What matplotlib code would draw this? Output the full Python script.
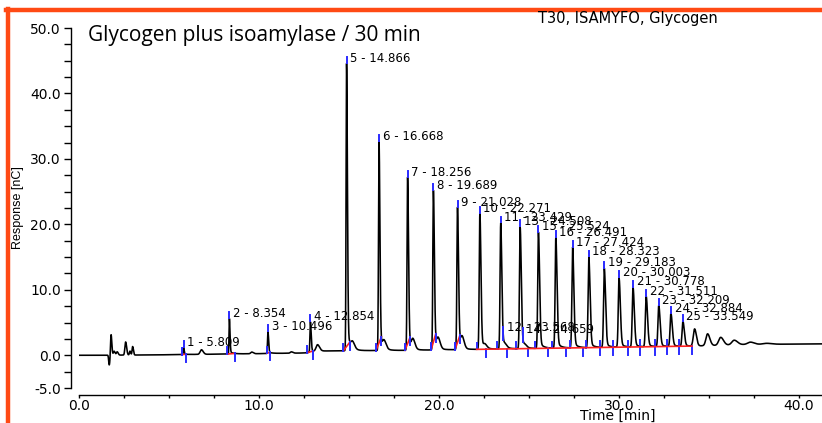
import numpy as np
import matplotlib
matplotlib.use("Agg")
import matplotlib.pyplot as plt
from matplotlib.ticker import MultipleLocator, FixedLocator, FormatStrFormatter
from matplotlib.lines import Line2D

# ---------------- data ----------------
peak_nums = [1, 2, 3, 4, 5, 6, 7, 8, 9, 10, 11, 13, 15, 16, 17, 18, 19, 20, 21, 22, 23, 24, 25]
peak_rt = [5.809, 8.354, 10.496, 12.854, 14.866, 16.668, 18.256, 19.689, 21.028,
           22.271, 23.429, 24.508, 25.524, 26.491, 27.424, 28.323, 29.183, 30.003,
           30.778, 31.511, 32.209, 32.884, 33.549]
peak_top = [1.2, 5.6, 3.6, 5.1, 44.6, 32.6, 27.2, 25.2, 22.6,
            21.7, 20.2, 19.6, 18.8, 18.0, 16.5, 15.0, 13.3, 11.8,
            10.4, 9.0, 7.6, 6.4, 5.2]
int_start = [5.70, 8.24, 10.43, 12.69, 14.69, 16.50, 18.11, 19.56, 20.89,
             22.09, 23.24, 24.30, 25.33, 26.30, 27.28, 28.15, 28.94, 29.69,
             30.50, 31.17, 32.00, 32.68, 33.36]
int_end = [5.93, 8.67, 10.61, 13.02, 15.06, 16.80, 18.39, 19.82, 21.17,
           22.61, 23.80, 24.96, 26.07, 27.06, 28.00, 28.94, 29.69, 30.50,
           31.17, 32.00, 32.68, 33.36, 34.06]

# small peaks labelled inside tails of 11 and 13
minor_nums = [12, 14]
minor_rt = [23.568, 24.659]
minor_top = [3.3, 3.1]

# unlabelled features: (time, height above baseline, width)
misc_rt = [1.68, 1.78, 1.95, 2.12, 2.59, 2.83, 2.98, 6.80, 9.60, 11.8,
           13.25, 15.20, 16.95, 18.55, 19.95, 21.28, 22.55, 23.65, 24.75,
           34.20, 34.92, 35.65, 36.40, 37.30, 38.2]
misc_h = [-1.5, 3.2, 0.6, 0.5, 2.0, 0.6, 1.3, 0.7, 0.25, 0.2,
          1.0, 0.9, 1.1, 1.4, 1.5, 1.7, 0.5, 0.5, 0.4,
          2.6, 1.8, 1.2, 0.7, 0.35, 0.15]
misc_w = [0.03, 0.03, 0.04, 0.04, 0.04, 0.03, 0.03, 0.07, 0.06, 0.06,
          0.08, 0.08, 0.08, 0.08, 0.08, 0.08, 0.08, 0.08, 0.08,
          0.07, 0.09, 0.11, 0.13, 0.15, 0.2]

# baseline level anchors
base_t = [0.0, 4.0, 10.0, 12.5, 13.5, 15.0, 18.0, 22.0, 28.0, 34.0, 37.0, 41.6]
base_y = [0.0, 0.05, 0.25, 0.35, 0.65, 0.7, 0.75, 0.9, 1.15, 1.4, 1.65, 1.75]

x_ticks = [0, 10, 20, 30, 40]
y_ticks = [-5, 0, 10, 20, 30, 40, 50]

# ---------------- build trace ----------------
t = np.linspace(0, 41.6, 16000)
def base(x):
    return np.interp(x, base_t, base_y)

def tail_peak(x, rt, h, sl, sr, frac=0.0, tau=0.2):
    d = x - rt
    left = np.exp(-0.5 * (d / sl) ** 2)
    right = (1 - frac) * np.exp(-0.5 * (d / sr) ** 2) + frac * np.exp(-np.clip(d, 0, None) / tau)
    return h * np.where(d < 0, left, right)

y = base(t).copy()
for rt, top in zip(peak_rt, peak_top):
    sl = 0.012 + 0.001 * rt
    sr = 1.7 * sl
    y += tail_peak(t, rt, top - base(rt), sl, sr, frac=0.07, tau=0.2)
for rt, h, w in zip(misc_rt, misc_h, misc_w):
    y += tail_peak(t, rt, h, w, w * 1.4)

# ---------------- figure ----------------
W, H = 822, 423
fig = plt.figure(figsize=(W / 100, H / 100), dpi=100)
fig.patch.set_facecolor("white")

x0, x1 = 79, 822
ytop, ybot = 28, 388
ax = fig.add_axes([x0 / W, 1 - ybot / H, (x1 - x0) / W, (ybot - ytop) / H])
ax.set_xlim(0, (x1 - x0) / 18.0)
ax.set_ylim(-5, 50)
ax.patch.set_alpha(0)

ax.plot(t, y, color="black", lw=1.15, zorder=3)

blue = "#2a2aff"
red = "#ff2020"
lab_font = ["DejaVu Sans"]
tk = 1.0
for i, (n, rt, top) in enumerate(zip(peak_nums, peak_rt, peak_top)):
    ax.plot([rt, rt], [top + 0.1, top + 1.0], color=blue, lw=1.4, zorder=4)
    ax.text(rt + 0.2, top + 0.8, f"{n} - {rt:.3f}", fontsize=8.5,
            family=lab_font, va="center", ha="left", zorder=5)
    s, e = int_start[i], int_end[i]
    ys = np.interp(s, t, y)
    ye = np.interp(e, t, y)
    if n <= 9:
        ax.plot([s, e], [ys, ye], color=red, lw=1.2, zorder=4)
        ax.plot([s, s], [ys, ys + tk], color=blue, lw=1.4, zorder=4)
        ax.plot([e, e], [ye, ye - tk * 1.2], color=blue, lw=1.4, zorder=4)
    else:
        bs, be = base(s), base(e)
        ax.plot([s, s], [bs, bs + tk], color=blue, lw=1.4, zorder=4)
        ax.plot([e, e], [be, be - tk * 1.2], color=blue, lw=1.4, zorder=4)

# continuous red baseline under peaks 10-25
gs, ge = int_start[9], int_end[-1]
ax.plot([gs, ge], [base(gs), base(ge)], color=red, lw=1.2, zorder=4)

for n, rt, top in zip(minor_nums, minor_rt, minor_top):
    ax.plot([rt, rt], [top - 1.0, top + 1.0], color=blue, lw=1.4, zorder=4)
    ax.text(rt + 0.2, top + 0.9, f"{n} - {rt:.3f}", fontsize=8.5,
            family=lab_font, va="center", ha="left", zorder=5)

# axes styling
for sp in ["top", "right"]:
    ax.spines[sp].set_visible(False)
ax.spines["left"].set_position(("outward", 6))
ax.spines["bottom"].set_position(("outward", 5))
ax.spines["left"].set_bounds(-5, 50)
ax.spines["bottom"].set_bounds(0, ax.get_xlim()[1])
ax.spines["left"].set_linewidth(1.0)
ax.spines["bottom"].set_linewidth(1.0)

ax.xaxis.set_major_locator(FixedLocator(x_ticks))
ax.xaxis.set_minor_locator(MultipleLocator(2.5))
ax.yaxis.set_major_locator(FixedLocator(y_ticks))
ax.yaxis.set_minor_locator(MultipleLocator(2.5))
ax.xaxis.set_major_formatter(FormatStrFormatter("%.1f"))
ax.yaxis.set_major_formatter(FormatStrFormatter("%.1f"))
ax.tick_params(axis="both", which="both", direction="out", width=1.0,
               labelsize=10, colors="black")
ax.tick_params(axis="y", which="major", length=5, pad=2)
ax.tick_params(axis="y", which="minor", length=5)
ax.tick_params(axis="x", which="major", length=2.5, pad=0.5)
ax.tick_params(axis="x", which="minor", length=2.5)
for lab in ax.get_xticklabels() + ax.get_yticklabels():
    lab.set_family(lab_font)

fig.text(618 / W, 1 - 416 / H, "Time [min]", fontsize=10, ha="center", va="center",
         family=lab_font)
fig.text(18 / W, 1 - 208 / H, "Response [nC]", fontsize=9, ha="center", va="center",
         rotation=90, family=["Liberation Sans", "DejaVu Sans"])
fig.text(88 / W, 1 - 35 / H, "Glycogen plus isoamylase / 30 min", fontsize=15,
         ha="left", va="center", family=["Open Sans", "DejaVu Sans"])
fig.text(628 / W, 1 - 19 / H, "T30, ISAMYFO, Glycogen", fontsize=10.5,
         ha="center", va="center", family=lab_font)

# orange frame
orange = "#ff4a14"
fig.add_artist(Line2D([6 / W, 1], [1 - 10.5 / H, 1 - 10.5 / H], color=orange, lw=3.2,
                      transform=fig.transFigure))
fig.add_artist(Line2D([8 / W, 8 / W], [0, 1 - 9 / H], color=orange, lw=3.2,
                      transform=fig.transFigure))

fig.savefig("out.png", dpi=100)
